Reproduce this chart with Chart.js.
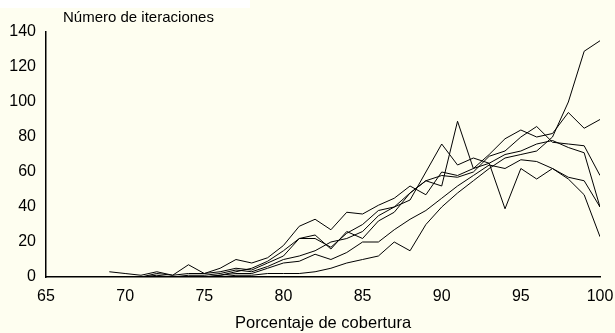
<!DOCTYPE html>
<html>
<head>
<meta charset="utf-8">
<script src="https://cdn.jsdelivr.net/npm/chart.js@4/dist/chart.umd.min.js"></script>
<style>
    html, body { margin: 0; padding: 0; background: #fefef0; }
    #wrap { width: 615px; height: 333px; }
</style>
</head>
<body>
<div id="wrap"><canvas id="graph" width="615" height="333"></canvas></div>
<script>
// Datos: porcentaje de cobertura (x) y número de iteraciones por ejecución
var cobertura = [69, 70, 71, 72, 73, 74, 75, 76, 77, 78, 79, 80, 81, 82, 83, 84,
                 85, 86, 87, 88, 89, 90, 91, 92, 93, 94, 95, 96, 97, 98, 99, 100];

var ejecucion1 = [0, 0, 0, 0, 0, 0, 0, 0, 1, 1, 2, 2, 2, 3, 5, 8,
                  10, 12, 20, 15, 30, 40, 48, 55, 62, 68, 70, 72, 80, 100, 129, 135];
var ejecucion2 = [0, 0, 0, 2, 1, 7, 2, 5, 10, 8, 11, 18, 29, 33, 27, 37,
                  36, 41, 45, 52, 47, 60, 58, 62, 70, 79, 84, 80, 82, 94, 85, 90];
var ejecucion3 = [3, 2, 1, 3, 1, 2, 2, 3, 5, 4, 8, 12, 22, 22, 17, 25,
                  30, 38, 40, 48, 55, 58, 57, 60, 69, 72, 80, 86, 77, 76, 75, 58];
var ejecucion4 = [0, 0, 0, 0, 0, 0, 0, 1, 3, 5, 9, 15, 22, 24, 16, 26,
                  22, 32, 37, 48, 55, 52, 89, 62, 65, 70, 72, 76, 78, 74, 71, 40];
var ejecucion5 = [0, 0, 0, 1, 0, 1, 1, 2, 4, 3, 6, 10, 12, 15, 20, 22,
                  26, 35, 40, 44, 60, 76, 64, 68, 65, 39, 62, 56, 62, 57, 55, 40];
var ejecucion6 = [0, 0, 0, 0, 0, 0, 0, 1, 2, 2, 5, 8, 9, 13, 10, 14,
                  20, 20, 27, 33, 38, 45, 52, 58, 64, 62, 67, 66, 62, 56, 47, 23];

var series = [ejecucion1, ejecucion2, ejecucion3, ejecucion4, ejecucion5, ejecucion6];

var xTicks = [65, 70, 75, 80, 85, 90, 95, 100];
var yTicks = [0, 20, 40, 60, 80, 100, 120, 140];

var fuente = "'Liberation Sans', Arial, sans-serif";

// Fondo crema y título del eje y
var fondoPlugin = {
    id: 'fondo',
    beforeDraw(chart) {
        var ctx = chart.ctx;
        ctx.save();
        ctx.fillStyle = '#fefef0';
        ctx.fillRect(0, 0, chart.width, chart.height);
        ctx.fillStyle = '#ffffff';
        ctx.fillRect(0, 0, 250, 8);
        ctx.restore();
    },
    afterDraw(chart) {
        var ctx = chart.ctx;
        ctx.save();
        ctx.fillStyle = '#000';
        ctx.font = '15px ' + fuente;
        ctx.textAlign = 'left';
        ctx.textBaseline = 'middle';
        ctx.fillText('Número de iteraciones', chart.chartArea.left + 17, 18);
        ctx.restore();
    }
};

var datasets = series.map((valores, i) => ({
    label: 'Ejecución ' + (i + 1),
    data: valores.map((v, j) => ({ x: cobertura[j], y: v })),
    borderColor: '#000',
    borderWidth: 1,
    pointRadius: 0,
    tension: 0,
    fill: false
}));

var ctx = document.getElementById('graph').getContext('2d');
var Graph = new Chart(ctx, {
    type: 'line',
    data: { datasets: datasets },
    options: {
        responsive: false,
        animation: false,
        layout: { padding: { top: 32, right: 15, left: 0, bottom: 0 } },
        plugins: {
            legend: { display: false },
            tooltip: { enabled: false }
        },
        scales: {
            x: {
                type: 'linear',
                min: 65,
                max: 100,
                afterBuildTicks: (scale) => { scale.ticks = xTicks.map(v => ({ value: v })); },
                afterFit: (scale) => {
                    scale.height = 56;
                    scale.paddingLeft = 0;
                    scale.paddingRight = 0;
                },
                grid: { display: false, drawTicks: false },
                border: { display: true, color: '#000', width: 1.5 },
                ticks: { color: '#000', font: { family: fuente, size: 16 }, padding: 10, maxRotation: 0 },
                title: {
                    display: true,
                    text: 'Porcentaje de cobertura',
                    color: '#000',
                    font: { family: fuente, size: 16.5 },
                    padding: { top: 6, bottom: 0 }
                }
            },
            y: {
                min: 0,
                max: 140,
                afterBuildTicks: (scale) => { scale.ticks = yTicks.map(v => ({ value: v })); },
                afterFit: (scale) => { scale.width = 46; },
                grid: { display: false, drawTicks: false },
                border: { display: true, color: '#000', width: 1.5 },
                ticks: { color: '#000', font: { family: fuente, size: 16 }, padding: 10 }
            }
        }
    },
    plugins: [fondoPlugin]
});
</script>
</body>
</html>
